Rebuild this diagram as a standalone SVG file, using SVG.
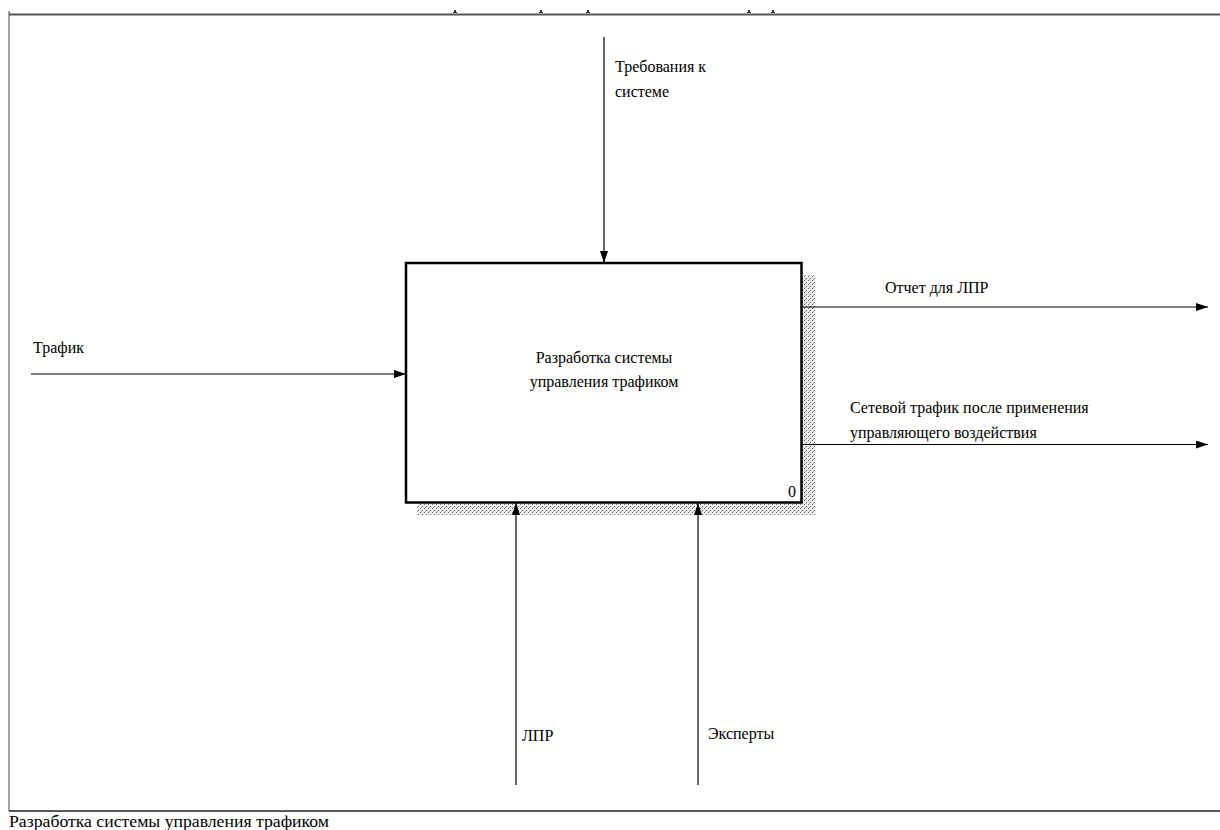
<svg xmlns="http://www.w3.org/2000/svg" width="1220" height="830" viewBox="0 0 1220 830">
<style>
text{font-family:"Liberation Serif","DejaVu Serif","Times New Roman",serif;font-size:16px;fill:#000}
.ln{stroke:#000;stroke-width:1.2;fill:none}
</style>
<defs>
<pattern id="hatch" width="4" height="4" patternUnits="userSpaceOnUse">
<rect width="4" height="4" fill="#ececec"/>
<rect x="0" y="0" width="1" height="1" fill="#666"/>
<rect x="2" y="2" width="1" height="1" fill="#666"/>
<rect x="1" y="3" width="1" height="1" fill="#aaa"/>
</pattern>
<marker id="arr" markerWidth="12" markerHeight="8" refX="12" refY="4" orient="auto" markerUnits="userSpaceOnUse">
<path d="M0,0 L12,4 L0,8 Z" fill="#000"/>
</marker>
</defs>
<rect width="1220" height="830" fill="#fff"/>
<g id="frame">
<line x1="9" y1="14.5" x2="1220" y2="14.5" stroke="#555" stroke-width="2"/>
<line x1="9" y1="11" x2="9" y2="811" stroke="#444" stroke-width="1"/>
<line x1="9" y1="811" x2="1220" y2="811" stroke="#222" stroke-width="1.5"/>
<g fill="#333">
<rect x="454" y="10" width="2" height="2"/><rect x="453" y="12" width="4" height="1"/>
<rect x="540" y="10" width="2" height="2"/><rect x="539" y="12" width="4" height="1"/>
<rect x="587" y="10" width="2" height="2"/><rect x="586" y="12" width="4" height="1"/>
<rect x="748" y="10" width="2" height="2"/><rect x="747" y="12" width="4" height="1"/>
<rect x="772" y="10" width="2" height="2"/><rect x="771" y="12" width="4" height="1"/>
</g>
<text x="9" y="827" font-family="Liberation Serif, DejaVu Serif, serif" textLength="320" lengthAdjust="spacingAndGlyphs">Разработка системы  управления трафиком</text>
</g>
<g id="node0">
<rect x="801.5" y="275" width="14" height="240" fill="url(#hatch)"/>
<rect x="417" y="502.5" width="398.5" height="12.5" fill="url(#hatch)"/>
<rect x="406" y="263" width="395.5" height="239.5" fill="#fff" stroke="#000" stroke-width="2.5"/>
<text x="604" y="363" text-anchor="middle" font-family="Liberation Serif, DejaVu Serif, serif">Разработка системы</text>
<text x="604" y="387" text-anchor="middle" font-family="Liberation Serif, DejaVu Serif, serif">управления трафиком</text>
<text x="788" y="497" font-family="Liberation Serif, DejaVu Serif, serif">0</text>
</g>
<g id="connectors">
<line class="ln" x1="604" y1="37" x2="604" y2="263" marker-end="url(#arr)"/>
<line class="ln" x1="31" y1="374" x2="406" y2="374" marker-end="url(#arr)"/>
<line class="ln" x1="801" y1="307" x2="1208" y2="307" marker-end="url(#arr)"/>
<line class="ln" x1="801" y1="444.5" x2="1208" y2="444.5" marker-end="url(#arr)"/>
<line class="ln" x1="516" y1="785" x2="516" y2="503" marker-end="url(#arr)"/>
<line class="ln" x1="698" y1="785" x2="698" y2="503" marker-end="url(#arr)"/>
</g>
<g id="labels" font-family="Liberation Serif, DejaVu Serif, serif">
<text x="615" y="72">Требования к</text>
<text x="615" y="97">системе</text>
<text x="33" y="353">Трафик</text>
<text x="885" y="293">Отчет для ЛПР</text>
<text x="850" y="413">Сетевой трафик после применения</text>
<text x="850" y="438">управляющего воздействия</text>
<text x="522" y="741">ЛПР</text>
<text x="708" y="739">Эксперты</text>
</g>
</svg>
